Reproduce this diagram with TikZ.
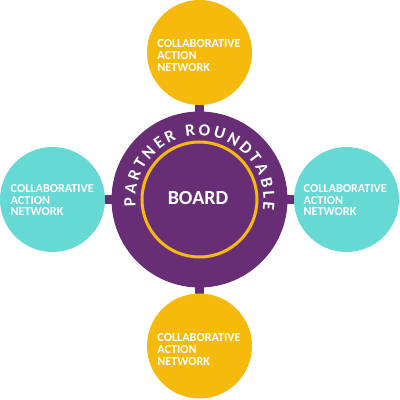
\documentclass[tikz,border=0pt]{standalone}
\usepackage{fontspec}
\setmainfont{Carlito}
\usetikzlibrary{decorations.text,backgrounds}
\definecolor{rtpurple}{RGB}{103,46,118}
\definecolor{rtyellow}{RGB}{245,186,12}
\definecolor{rtteal}{RGB}{102,217,213}
\tikzset{
  sat/.style={circle, inner sep=0pt, minimum size=105pt},
  satyel/.style={sat, fill=rtyellow},
  satteal/.style={sat, fill=rtteal},
  captext/.style={text=white, font=\bfseries\fontsize{12.2}{11.7}\selectfont, align=left, inner sep=0pt},
  link/.style={draw=rtpurple, line width=9pt},
}
\begin{document}
\begin{tikzpicture}[x=1pt,y=1pt]
\useasboundingbox (0,0) rectangle (400,400);
\node[circle, fill=rtpurple, inner sep=0pt, minimum size=176pt] (main) at (199.5,200.5) {};
\node[satyel] (top) at (199.5,347.5) {};
\node[satyel] (bottom) at (199.5,54) {};
\node[satteal] (left) at (52.5,200.5) {};
\node[satteal] (right) at (346.5,200.5) {};
\begin{scope}[on background layer]
  \path[link] (main.center) -- (top.center);
  \path[link] (main.center) -- (bottom.center);
  \path[link] (main.center) -- (left.center);
  \path[link] (main.center) -- (right.center);
\end{scope}
\node[circle, draw=rtyellow, line width=3pt, inner sep=0pt, minimum size=115pt] (ring) at (main.center) {};
\node[text=white, font=\bfseries\fontsize{20}{20}\selectfont, inner sep=0pt] (board) at (198,202) {BOARD};
\path[decorate, decoration={text along path, text={|\color{white}\bfseries\fontsize{17}{17}\selectfont|PARTNER ROUNDTABLE}, text align=fit to path}]
  (main.center) ++(186:64) arc[start angle=186, end angle=-9, radius=64];
\node[captext] (ttop) at (199,344.45) {COLLABORATIVE\\ACTION\\NETWORK};
\node[captext] (tbottom) at (199,50.45) {COLLABORATIVE\\ACTION\\NETWORK};
\node[captext] (tleft) at (52.3,199.85) {COLLABORATIVE\\ACTION\\NETWORK};
\node[captext] (tright) at (345.3,199.85) {COLLABORATIVE\\ACTION\\NETWORK};
\end{tikzpicture}
\end{document}
